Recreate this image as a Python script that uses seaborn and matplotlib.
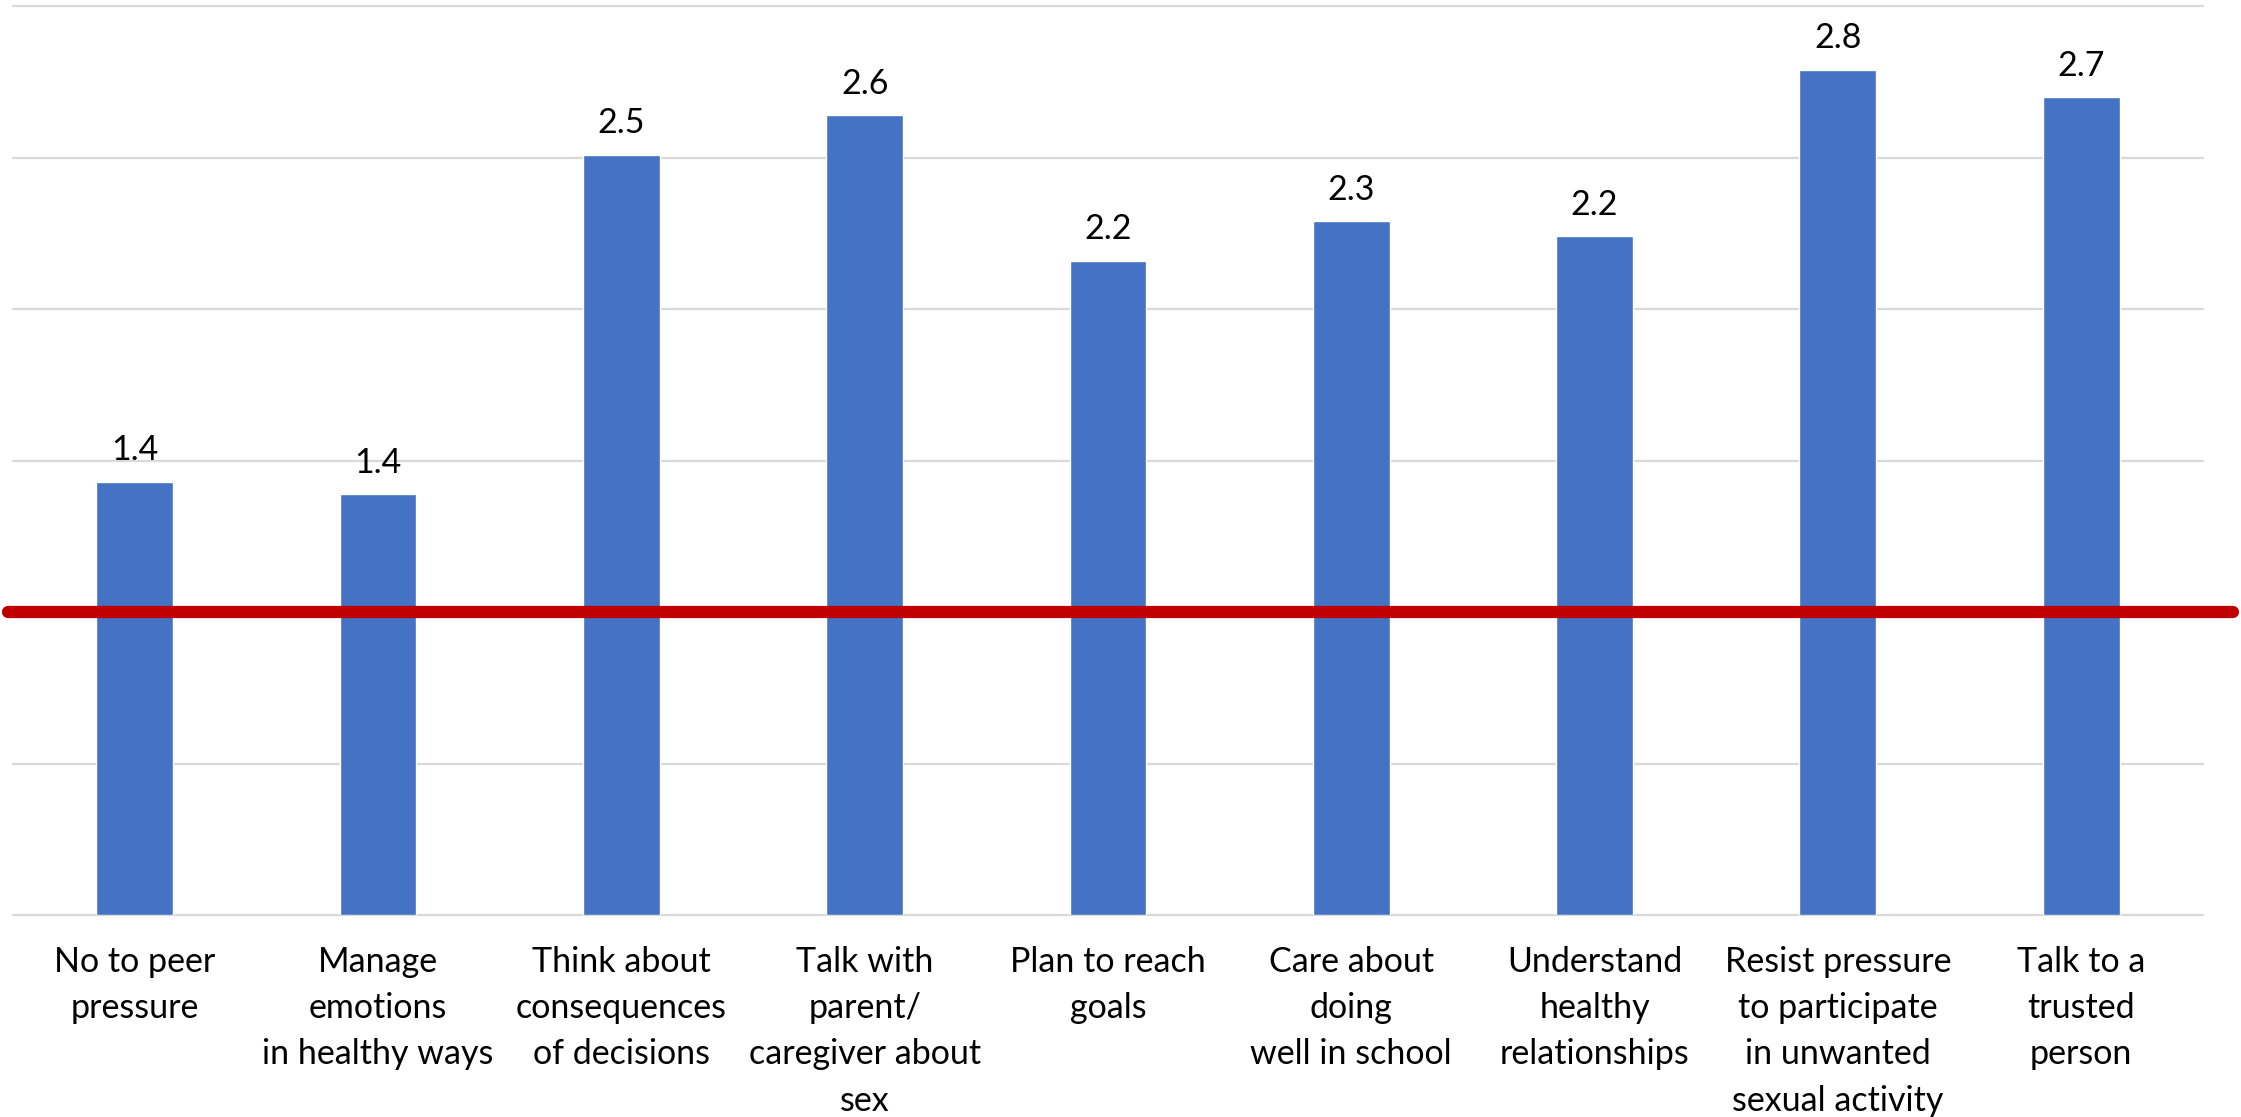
import numpy as np
import matplotlib
matplotlib.use("Agg")
import matplotlib.pyplot as plt
import seaborn as sns

# Skill categories and average scores
categories = [
    "No to peer\npressure",
    "Manage\nemotions\nin healthy ways",
    "Think about\nconsequences\nof decisions",
    "Talk with\nparent/\ncaregiver about\nsex",
    "Plan to reach\ngoals",
    "Care about\ndoing\nwell in school",
    "Understand\nhealthy\nrelationships",
    "Resist pressure\nto participate\nin unwanted\nsexual activity",
    "Talk to a\ntrusted\nperson",
]
scores = [1.43, 1.39, 2.51, 2.64, 2.16, 2.29, 2.24, 2.79, 2.70]
reference_level = 1.0
grid_ticks = [0.0, 0.5, 1.0, 1.5, 2.0, 2.5, 3.0]

sns.set_theme(style="white")
plt.rcParams["font.family"] = ["Lato", "DejaVu Sans"]

fig = plt.figure(figsize=(22.41, 11.17), dpi=100)
ax = fig.add_axes([0.0058, 0.1808, 0.9772, 0.8138])

sns.barplot(x=categories, y=scores, color="#4472C4", saturation=1,
            width=0.316, ax=ax, zorder=2)

ax.set_ylim(0, 3.0)
ax.set_yticks(grid_ticks)
ax.set_yticklabels([])
ax.yaxis.grid(True, color="#d9d9d9", linewidth=1.6)
ax.xaxis.grid(False)
for gl in ax.get_ygridlines():
    gl.set_clip_on(False)
ax.set_axisbelow(True)
for sp in ax.spines.values():
    sp.set_visible(False)

ax.tick_params(axis="both", length=0)
ax.tick_params(axis="x", pad=22, labelsize=24.5, labelcolor="black")
for lbl in ax.get_xticklabels():
    lbl.set_linespacing(1.55)
    lbl.set_horizontalalignment("center")

ax.bar_label(ax.containers[0], fmt="%.1f", padding=11, fontsize=24.5,
             color="black")

ax.axhline(reference_level, xmin=-0.0023, xmax=1.0137, color="#C00000",
           linewidth=8.8, clip_on=False, zorder=4)

ax.set_xlabel("")
ax.set_ylabel("")

fig.savefig("out.png", dpi=100, facecolor="white")
